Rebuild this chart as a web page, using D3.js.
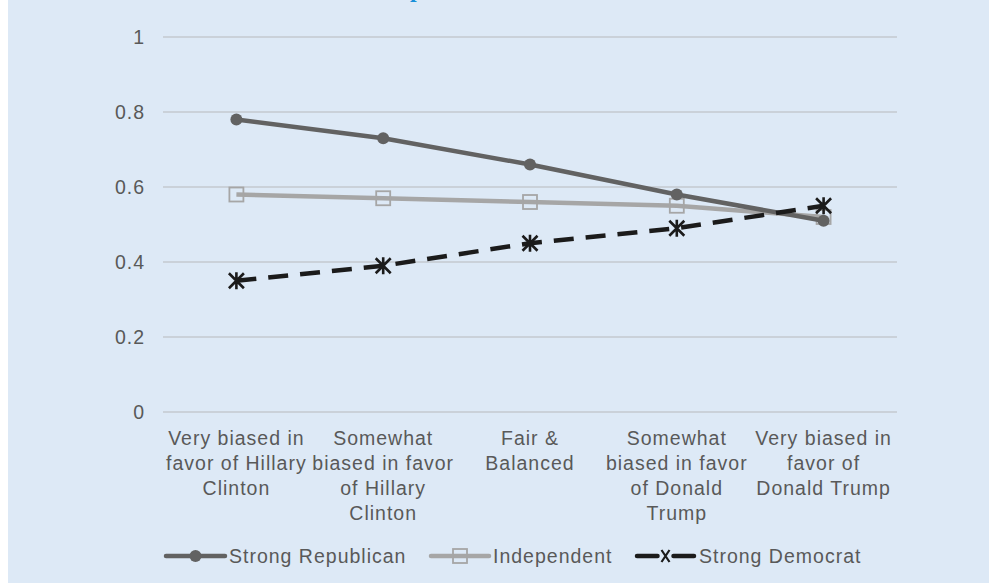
<!DOCTYPE html>
<html>
<head>
<meta charset="utf-8">
<script src="https://cdn.jsdelivr.net/npm/d3@7"></script>
<style>
  html, body { margin: 0; padding: 0; background: #ffffff; }
  svg { display: block; }
  text { font-family: "Liberation Sans", Arial, sans-serif; }
</style>
</head>
<body>
<svg id="chart" width="989" height="583"></svg>
<script>
// Perceived media bias categories (x axis)
const categories = [
  ["Very biased in", "favor of Hillary", "Clinton"],
  ["Somewhat", "biased in favor", "of Hillary", "Clinton"],
  ["Fair &", "Balanced"],
  ["Somewhat", "biased in favor", "of Donald", "Trump"],
  ["Very biased in", "favor of", "Donald Trump"]
];

// Series values
const strongRepublican = [0.78, 0.73, 0.66, 0.58, 0.51];
const independent      = [0.58, 0.57, 0.56, 0.55, 0.52];
const strongDemocrat   = [0.35, 0.39, 0.45, 0.49, 0.55];

// Y axis ticks
const yTicks = [0, 0.2, 0.4, 0.6, 0.8, 1];
const yTickLabels = ["0", "0.2", "0.4", "0.6", "0.8", "1"];

const seriesNames = ["Strong Republican", "Independent", "Strong Democrat"];

const svg = d3.select("#chart");
const W = 989, H = 583;
const FONT = "19.5px";

// panel background
svg.append("rect").attr("x", 8).attr("y", 0).attr("width", W - 8).attr("height", H)
  .attr("fill", "#dde9f6");

// partially visible heading above the panel
svg.append("text")
  .attr("x", 410).attr("y", -3)
  .attr("fill", "#1a90d8")
  .style("font-family", "'Liberation Serif', 'DejaVu Serif', serif")
  .style("font-weight", "bold")
  .style("font-size", "24px")
  .text("p");

const plotLeft = 163, plotRight = 897, plotTop = 37, plotBottom = 412;

const x = d3.scaleBand().domain(d3.range(categories.length)).range([plotLeft, plotRight]);
const y = d3.scaleLinear().domain([0, 1]).range([plotBottom, plotTop]);
const cx = i => x(i) + x.bandwidth() / 2;

// gridlines
svg.append("g").selectAll("line").data(yTicks).join("line")
  .attr("x1", plotLeft).attr("x2", plotRight)
  .attr("y1", d => y(d)).attr("y2", d => y(d))
  .attr("stroke", "#c3c8cf").attr("stroke-width", 1.5);

// y axis labels
const yAxis = d3.axisLeft(y).tickValues(yTicks)
  .tickFormat((d, i) => yTickLabels[i]).tickSize(0).tickPadding(18);
const gy = svg.append("g").attr("transform", `translate(${plotLeft},0)`).call(yAxis);
gy.select(".domain").remove();
gy.selectAll("text")
  .attr("fill", "#595959")
  .style("font-size", FONT)
  .style("letter-spacing", "1px")
  .style("font-family", "'Liberation Sans', Arial, sans-serif");

// category labels
const cat = svg.append("g");
categories.forEach((lines, i) => {
  const t = cat.append("text")
    .attr("text-anchor", "middle")
    .attr("fill", "#595959")
    .style("font-size", FONT)
    .style("letter-spacing", "1px");
  lines.forEach((ln, j) => {
    t.append("tspan").attr("x", cx(i)).attr("y", 445 + j * 25).text(ln);
  });
});

// series styles
const styles = [
  { data: strongRepublican, color: "#626262", dash: null, marker: "circle" },
  { data: independent, color: "#a6a6a6", dash: null, marker: "square" },
  { data: strongDemocrat, color: "#1b1b1b", dash: "20,12", marker: "star" }
];

const line = d3.line().x((d, i) => cx(i)).y(d => y(d));

function drawMarker(g, type, color, px, py) {
  if (type === "circle") {
    g.append("circle").attr("cx", px).attr("cy", py).attr("r", 6).attr("fill", color);
  } else if (type === "square") {
    g.append("rect").attr("x", px - 7).attr("y", py - 7).attr("width", 14).attr("height", 14)
      .attr("fill", "none").attr("stroke", color).attr("stroke-width", 1.8);
  } else {
    const s = 7.5;
    const p = `M${px - s},${py - s}L${px + s},${py + s}M${px - s},${py + s}L${px + s},${py - s}M${px},${py - s - 1}L${px},${py + s + 1}`;
    g.append("path").attr("d", p).attr("stroke", color).attr("stroke-width", 2.6).attr("fill", "none");
  }
}

// draw lines in order: Independent, Republican, Democrat on top
[1, 0, 2].forEach(k => {
  const s = styles[k];
  const g = svg.append("g");
  g.append("path").datum(s.data)
    .attr("d", line)
    .attr("fill", "none")
    .attr("stroke", s.color)
    .attr("stroke-width", 4.5)
    .attr("stroke-dasharray", s.dash);
  s.data.forEach((v, i) => drawMarker(g, s.marker, s.color, cx(i), y(v)));
});

// legend
const legendItems = [
  { x1: 166, x2: 225, tx: 229 },
  { x1: 431, x2: 489, tx: 493 },
  { x1: 637, x2: 694, tx: 699 }
];
const ly = 556;
legendItems.forEach((it, k) => {
  const s = styles[k];
  const g = svg.append("g");
  if (k === 2) {
    const mid = (it.x1 + it.x2) / 2;
    g.append("line").attr("x1", it.x1).attr("x2", mid - 8).attr("y1", ly).attr("y2", ly)
      .attr("stroke", s.color).attr("stroke-width", 4.5).attr("stroke-linecap", "round");
    g.append("line").attr("x1", mid + 8).attr("x2", it.x2).attr("y1", ly).attr("y2", ly)
      .attr("stroke", s.color).attr("stroke-width", 4.5).attr("stroke-linecap", "round");
    const sx = 4;
    g.append("path")
      .attr("d", `M${mid - sx},${ly - 6}L${mid + sx},${ly + 6}M${mid - sx},${ly + 6}L${mid + sx},${ly - 6}`)
      .attr("stroke", s.color).attr("stroke-width", 2.2);
  } else {
    g.append("line").attr("x1", it.x1).attr("x2", it.x2).attr("y1", ly).attr("y2", ly)
      .attr("stroke", s.color).attr("stroke-width", 4.5).attr("stroke-linecap", "round");
    drawMarker(g, s.marker, s.color, (it.x1 + it.x2) / 2, ly);
  }
  g.append("text").attr("x", it.tx).attr("y", ly + 7)
    .attr("fill", "#595959").style("font-size", FONT).style("letter-spacing", "1px")
    .text(seriesNames[k]);
});
</script>
</body>
</html>
